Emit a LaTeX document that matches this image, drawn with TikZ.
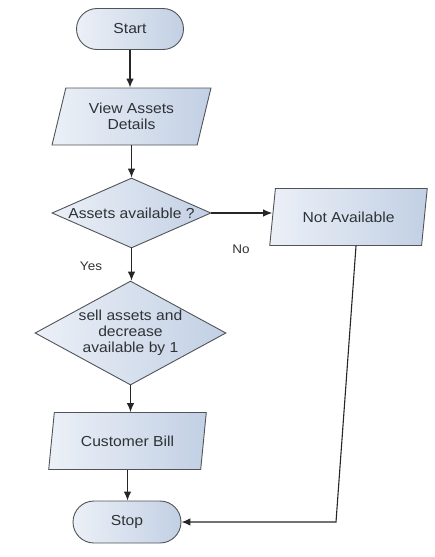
\documentclass[tikz,border=0pt]{standalone}
\usepackage{fontspec}
\setmainfont{Liberation Sans}[FakeStretch=1.08]
\usetikzlibrary{shapes.geometric,shapes.misc,arrows.meta,calc}
\definecolor{fillA}{HTML}{ECF0F7}
\definecolor{fillB}{HTML}{C2D0E4}
\definecolor{edge}{HTML}{505458}
\definecolor{txt}{HTML}{2E3236}
\begin{document}
\begin{tikzpicture}[x=1pt,y=-1pt,
  shapebase/.style={draw=edge,line width=0.9pt,left color=fillA,right color=fillB,
    text=txt,font=\fontsize{14.5}{16}\selectfont,inner sep=0pt,align=center},
  term/.style={shapebase,rounded rectangle,minimum width=107pt,minimum height=41pt},
  io/.style={shapebase,trapezium,trapezium stretches=true,trapezium left angle=71.5,
    trapezium right angle=108.5,minimum width=159pt,minimum height=57pt},
  decision/.style={shapebase,diamond},
  dtext/.style={text=txt,font=\fontsize{14.5}{16}\selectfont,align=center,inner sep=0pt},
  lbl/.style={text=txt,font=\fontsize{12.5}{14}\selectfont,inner sep=0pt},
  flow/.style={draw=black!85,line width=1.1pt,-{Latex[length=9pt,width=7.5pt]}}]
\useasboundingbox (0,0) rectangle (435,557);

\node[term] (start) at (130,29) {Start};
\node[io] (view) at (131.5,116.5) {View Assets\\Details};
\node[decision,minimum width=159pt,minimum height=70pt] (d1) at (131.5,213) {};
\node[dtext] (d1t) at (d1) {Assets available ?};
\node[io] (na) at (348.5,217) {Not Available};
\node[decision,minimum width=191pt,minimum height=104pt] (d2) at (130.5,333) {};
\node[dtext] (d2t) at (d2) {sell assets and\\decrease\\available by 1};
\node[io] (bill) at (127.5,441) {Customer Bill};
\node[term,minimum width=108pt,minimum height=42pt] (stop) at (127,522) {Stop};

\node[lbl] (no) at (241,249) {No};
\node[lbl] (yes) at (91,266) {Yes};

\draw[flow] (start.south) -- (start.south |- view.north);
\draw[flow] (view.south) -- (view.south |- d1.north);
\draw[flow] (d1.east) -- (d1.east -| na.west);
\draw[flow] (d1.south) -- (d1.south |- d2.north);
\draw[flow] (d2.south) -- (d2.south |- bill.north);
\draw[flow] (bill.south) -- (bill.south |- stop.north);
\coordinate (nab) at ($(na.south)+(7.5,0)$);
\coordinate (turn) at (336,522);
\draw[flow] (nab) -- (turn) -- (stop.east);
\end{tikzpicture}
\end{document}
